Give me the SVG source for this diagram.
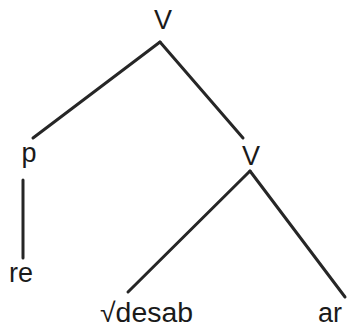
<svg xmlns="http://www.w3.org/2000/svg" width="357" height="329" viewBox="0 0 357 329">
<style>
.t{font-family:"Liberation Sans",Arial,sans-serif;font-size:27px;fill:#1a1a1a}
.e{stroke:#262626;stroke-width:3;stroke-linecap:round;fill:none}
</style>
<rect width="357" height="329" fill="#fff"/>
<g id="connectors">
<line class="e" x1="160" y1="42" x2="33" y2="138"/>
<line class="e" x1="160" y1="42" x2="243" y2="138"/>
<line class="e" x1="23" y1="180" x2="23" y2="258"/>
<line class="e" x1="250" y1="171" x2="128" y2="292"/>
<line class="e" x1="250" y1="171" x2="345" y2="297"/>
</g>
<g id="V-top"><text class="t" x="163" y="29" text-anchor="middle">V</text></g>
<g id="p"><text class="t" x="29" y="162" text-anchor="middle">p</text></g>
<g id="V-mid"><text class="t" x="251" y="165" text-anchor="middle">V</text></g>
<g id="re"><text class="t" x="9" y="282">re</text></g>
<g id="desab"><text class="t" x="100" y="322" textLength="93" lengthAdjust="spacingAndGlyphs">√desab</text></g>
<g id="ar"><text class="t" x="318" y="322">ar</text></g>
</svg>
